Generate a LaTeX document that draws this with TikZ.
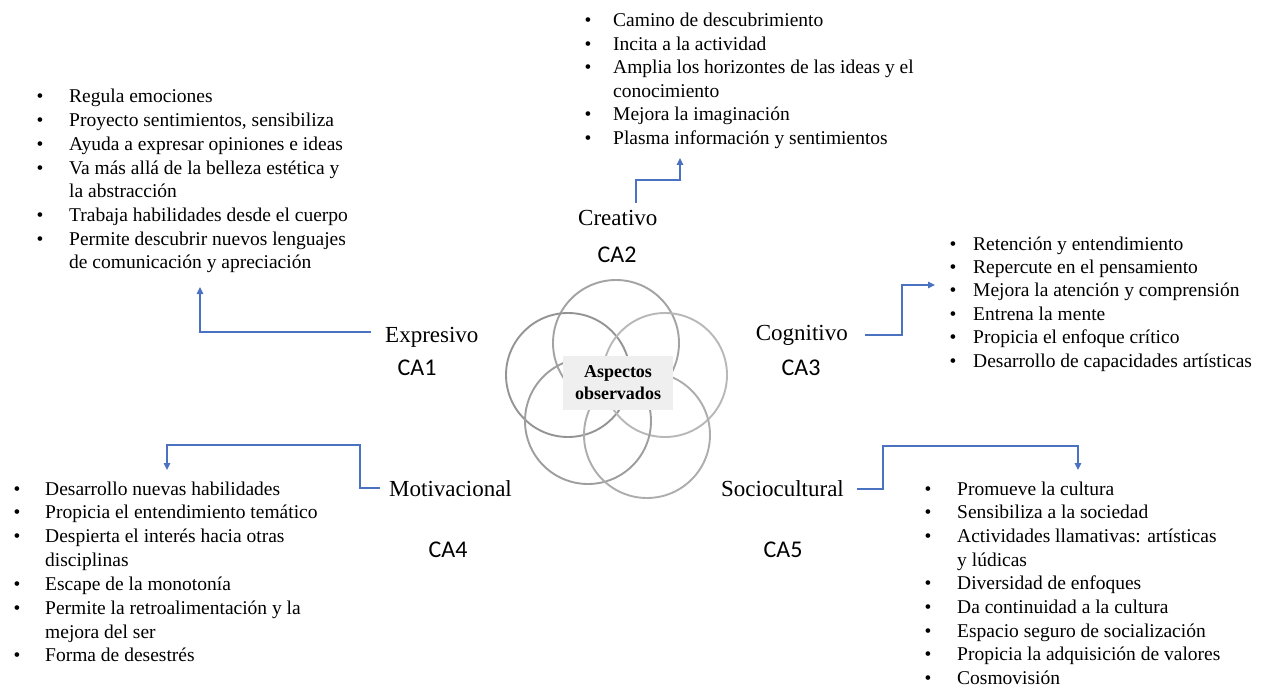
\documentclass[tikz,border=0pt]{standalone}
\usepackage{fontspec}
\setmainfont{Liberation Serif}
\newfontfamily\calfont{Carlito}
\usetikzlibrary{arrows.meta}
\definecolor{conn}{HTML}{4A72C0}
\definecolor{bgbox}{HTML}{EFEFEF}
\tikzset{
  itemtext/.style={anchor=base west,inner sep=0pt,font=\fontsize{19.5}{23}\selectfont},
  bul/.style={anchor=base,inner sep=0pt,font=\fontsize{19.5}{23}\selectfont},
  lab/.style={anchor=base west,inner sep=0pt,font=\fontsize{23}{27}\selectfont},
  code/.style={anchor=base,inner sep=0pt,font=\calfont\fontsize{24}{28}\selectfont},
  ring/.style={line width=1.9pt},
  connector/.style={draw=conn,line width=1.2pt,-{Triangle[length=7pt,width=6.5pt]}},
}
\begin{document}
\begin{tikzpicture}[x=1pt,y=-1pt]
\useasboundingbox (0,0) rectangle (1268,687);
\fill[white] (0,0) rectangle (1268,687);

% circles
\draw[ring,draw=black!36] (616,343) circle (63);
\draw[ring,draw=black!42] (568,375) circle (62);
\draw[ring,draw=black!28] (665,375) circle (62);
\draw[ring,draw=black!38] (588,421) circle (63);
\draw[ring,draw=black!32] (647,435) circle (63);
\node[fill=bgbox,minimum width=110pt,minimum height=54pt,inner sep=0pt,align=center,
      font=\bfseries\fontsize{18}{22}\selectfont] (center) at (618,383) {Aspectos\\observados};

% labels
\node[lab] (expL) at (385,342) {Expresivo};
\node[code] (ca1) at (417,375) {CA1};
\node[lab] (creL) at (578,225) {Creativo};
\node[code] (ca2) at (617,262) {CA2};
\node[lab,anchor=base east] (cogL) at (848,340) {Cognitivo};
\node[code] (ca3) at (801,375) {CA3};
\node[lab] (motL) at (389,496) {Motivacional};
\node[code] (ca4) at (448,557) {CA4};
\node[lab] (socL) at (721,496) {Sociocultural};
\node[code] (ca5) at (783,557) {CA5};

% connectors
\coordinate (eS) at (371,332); \coordinate (eT) at (200,287);
\draw[connector] (eS) -| (eT);
\coordinate (cS) at (636,203); \coordinate (cT) at (680,158);
\draw[connector] (cS) -- ++(0,-23) -| (cT);
\coordinate (gS) at (865,335); \coordinate (gT) at (935,285);
\draw[connector] (gS) -- ++(37,0) |- (gT);
\coordinate (mS) at (380,488); \coordinate (mT) at (167,470);
\draw[connector] (mS) -- ++(-20,0) -- ++(0,-43) -| (mT);
\coordinate (sS) at (857,489); \coordinate (sT) at (1078,470);
\draw[connector] (sS) -- ++(26,0) -- ++(0,-43) -| (sT);

% Expresivo list
\foreach \b/\t [count=\i] in {1/{Regula emociones},1/{Proyecto sentimientos, sensibiliza},1/{Ayuda a expresar opiniones e ideas},1/{Va más allá de la belleza estética y},0/{la abstracción},1/{Trabaja habilidades desde el cuerpo},1/{Permite descubrir nuevos lenguajes},0/{de comunicación y apreciación}}{
  \pgfmathsetmacro{\yy}{103+(\i-1)*23.7}
  \node[itemtext] (e\i) at (69,\yy) {\t};
  \ifnum\b=1 \node[bul] (eb\i) at (40,\yy) {\textbullet}; \fi
}
% Creativo list
\foreach \b/\t [count=\i] in {1/{Camino de descubrimiento},1/{Incita a la actividad},1/{Amplia los horizontes de las ideas y el},0/{conocimiento},1/{Mejora la imaginación},1/{Plasma información y sentimientos}}{
  \pgfmathsetmacro{\yy}{26.5+(\i-1)*23.6}
  \node[itemtext] (c\i) at (613,\yy) {\t};
  \ifnum\b=1 \node[bul] (cb\i) at (588,\yy) {\textbullet}; \fi
}
% Cognitivo list
\foreach \b/\t [count=\i] in {1/{Retención y entendimiento},1/{Repercute en el pensamiento},1/{Mejora la atención y comprensión},1/{Entrena la mente},1/{Propicia el enfoque crítico},1/{Desarrollo de capacidades artísticas}}{
  \pgfmathsetmacro{\yy}{250+(\i-1)*23.4}
  \node[itemtext] (g\i) at (973,\yy) {\t};
  \ifnum\b=1 \node[bul] (gb\i) at (953,\yy) {\textbullet}; \fi
}
% Motivacional list
\foreach \b/\t [count=\i] in {1/{Desarrollo nuevas habilidades},1/{Propicia el entendimiento temático},1/{Despierta el interés hacia otras},0/{disciplinas},1/{Escape de la monotonía},1/{Permite la retroalimentación y la},0/{mejora del ser},1/{Forma de desestrés}}{
  \pgfmathsetmacro{\yy}{495+(\i-1)*23.85}
  \node[itemtext] (m\i) at (45,\yy) {\t};
  \ifnum\b=1 \node[bul] (mb\i) at (17,\yy) {\textbullet}; \fi
}
% Sociocultural list
\foreach \b/\t [count=\i] in {1/{Promueve la cultura},1/{Sensibiliza a la sociedad},1/{Actividades llamativas: artísticas},0/{y lúdicas},1/{Diversidad de enfoques},1/{Da continuidad a la cultura},1/{Espacio seguro de socialización},1/{Propicia la adquisición de valores},1/{Cosmovisión}}{
  \pgfmathsetmacro{\yy}{495+(\i-1)*23.7}
  \node[itemtext] (s\i) at (957,\yy) {\t};
  \ifnum\b=1 \node[bul] (sb\i) at (928,\yy) {\textbullet}; \fi
}
\end{tikzpicture}
\end{document}
